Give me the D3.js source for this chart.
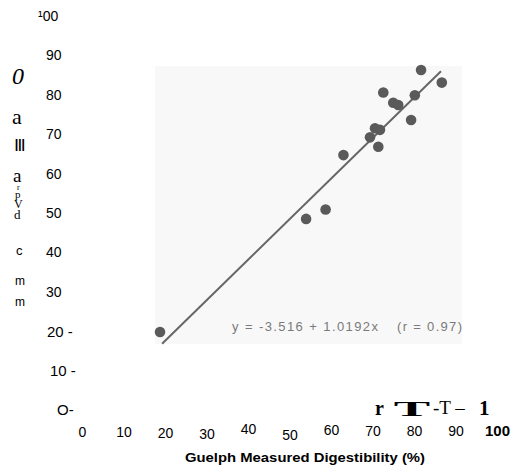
<!DOCTYPE html>
<html>
<head>
<meta charset="utf-8">
<script src="https://cdn.jsdelivr.net/npm/d3@7/dist/d3.min.js"></script>
<style>
  body { margin: 0; background: #fff; }
  svg { display: block; }
</style>
</head>
<body>
<div id="chart"></div>
<script>
// data
const xTicks = [0, 10, 20, 30, 40, 50, 60, 70, 80, 90, 100];
const xTickLabels = ['0', '10', '20', '30', '40', '50', '60', '70', '80', '90', '100'];
const yTicks = [100, 90, 80, 70, 60, 50, 40, 30, 20, 10, 0];
const yTickLabels = ['\u00b900', '90', '80', '70', '60', '50', '40', '30', '20 -', '10 -', 'O-'];

const guelph = [81.7, 86.7, 72.6, 80.2, 75.0, 76.2, 79.3, 70.6, 71.8, 69.4, 71.4, 63.0, 58.7, 54.0, 18.8];
const predicted = [86.3, 83.1, 80.6, 79.9, 78.0, 77.4, 73.6, 71.5, 71.1, 69.2, 66.8, 64.7, 50.9, 48.5, 19.8];

const fitX = [19.3, 86.5];
const fitY = [16.8, 86.0];

const equation = 'y = -3.516 + 1.0192x';
const rValue = '(r = 0.97)';
const xTitle = 'Guelph Measured Digestibility (%)';

// garbled y title left over from the scan
const yTitleBits = [
  {t: '0', x: 12, y: 84, size: 24, fam: 'Liberation Serif', style: 'italic'},
  {t: 'a', x: 12, y: 124, size: 22, fam: 'Liberation Serif'},
  {t: '\u2162', x: 14, y: 151, size: 17, fam: 'Liberation Serif'},
  {t: 'a', x: 13, y: 182, size: 19, fam: 'Liberation Serif'},
  {t: 'r', x: 17, y: 190, size: 8, fam: 'Liberation Serif'},
  {t: 'p', x: 15, y: 198, size: 11, fam: 'Liberation Serif'},
  {t: 'V', x: 14, y: 208, size: 12, fam: 'Liberation Serif'},
  {t: 'd', x: 14, y: 219, size: 13, fam: 'Liberation Serif'},
  {t: 'c', x: 16, y: 255, size: 13, fam: 'Liberation Sans'},
  {t: 'm', x: 15, y: 285, size: 12, fam: 'Liberation Sans'},
  {t: 'm', x: 15, y: 306, size: 12, fam: 'Liberation Sans'}
];

const width = 512, height = 470;

const x = d3.scaleLinear().domain([0, 100]).range([82, 497]);
const y = d3.scaleLinear().domain([0, 100]).range([410, 16]);

const svg = d3.select('#chart').append('svg')
  .attr('width', width)
  .attr('height', height);

const defs = svg.append('defs');
defs.append('filter').attr('id', 'soft')
  .append('feGaussianBlur').attr('stdDeviation', 0.7);

// scanned plot panel
svg.append('rect')
  .attr('x', 155).attr('y', 66)
  .attr('width', 307).attr('height', 278)
  .attr('fill', '#f8f8f8');

// fitted line
svg.append('line')
  .attr('x1', x(fitX[0])).attr('y1', y(fitY[0]))
  .attr('x2', x(fitX[1])).attr('y2', y(fitY[1]))
  .attr('stroke', '#666')
  .attr('stroke-width', 2)
  .attr('filter', 'url(#soft)');

svg.append('g').attr('filter', 'url(#soft)')
  .selectAll('circle')
  .data(guelph)
  .enter()
  .append('circle')
  .attr('cx', d => x(d))
  .attr('cy', (d, i) => y(predicted[i]))
  .attr('r', 5.3)
  .attr('fill', '#5a5a5a');

svg.append('text')
  .attr('x', 232).attr('y', 331)
  .attr('font-family', 'Liberation Sans, Arial, sans-serif')
  .attr('font-size', 13)
  .attr('textLength', 146)
  .attr('lengthAdjust', 'spacing')
  .attr('fill', '#7a7a7a')
  .text(equation);

svg.append('text')
  .attr('x', 397).attr('y', 331)
  .attr('font-family', 'Liberation Sans, Arial, sans-serif')
  .attr('font-size', 13)
  .attr('textLength', 65)
  .attr('lengthAdjust', 'spacing')
  .attr('fill', '#7a7a7a')
  .text(rValue);

// x axis: labels only
const xNudge = [0, 0, 1, 2, -3, 3, -2, -1, -1, -1, -2];
const xAxis = d3.axisBottom(x)
  .tickValues(xTicks)
  .tickSize(0)
  .tickPadding(0)
  .tickFormat((d, i) => xTickLabels[i]);

const gx = svg.append('g')
  .attr('transform', 'translate(0,' + 427 + ')')
  .call(xAxis);
gx.select('.domain').remove();
gx.selectAll('text')
  .attr('font-family', 'Liberation Sans Narrow, Liberation Sans, Arial, sans-serif')
  .attr('font-size', (d, i) => i === xTicks.length - 1 ? 15 : 14)
  .attr('fill', '#000')
  .attr('y', (d, i) => xNudge[i])
  .attr('font-weight', (d, i) => i === xTicks.length - 1 ? 'bold' : 'normal');

// y axis: labels only
const yShift = [-8, 0, 0, 0, 0, 0, 0, 0, 1, 4, 11];
const yAxis = d3.axisLeft(y)
  .tickValues(yTicks)
  .tickSize(0)
  .tickPadding(0)
  .tickFormat((d, i) => yTickLabels[i]);

const gy = svg.append('g')
  .attr('transform', 'translate(46,0)')
  .call(yAxis);
gy.select('.domain').remove();
gy.selectAll('text')
  .attr('text-anchor', 'start')
  .attr('x', (d, i) => yShift[i])
  .attr('font-family', 'Liberation Sans, Arial, sans-serif')
  .attr('font-size', (d, i) => i >= 8 ? 15 : 14)
  .attr('fill', '#000');

svg.append('text')
  .attr('x', 185).attr('y', 462)
  .attr('font-family', 'Liberation Sans, Arial, sans-serif')
  .attr('font-size', 13)
  .attr('font-weight', 'bold')
  .attr('textLength', 240)
  .attr('lengthAdjust', 'spacingAndGlyphs')
  .text(xTitle);

svg.append('g').selectAll('text')
  .data(yTitleBits)
  .enter()
  .append('text')
  .attr('x', d => d.x).attr('y', d => d.y)
  .attr('font-family', d => d.fam + ', serif')
  .attr('font-size', d => d.size)
  .attr('font-style', d => d.style || 'normal')
  .text(d => d.t);

// scan artefact above the right x labels
const art = svg.append('g')
  .attr('font-family', 'Liberation Serif, serif')
  .attr('fill', '#000');
art.append('text').attr('x', 375).attr('y', 415)
  .attr('font-size', 20).attr('font-weight', 'bold').text('r');
art.append('text')
  .attr('transform', 'translate(412,416) scale(2.6,1)')
  .attr('text-anchor', 'middle')
  .attr('font-size', 21).attr('font-weight', 'bold').text('T');
art.append('text').attr('x', 433).attr('y', 414)
  .attr('font-size', 19).text('-T \u2013');
art.append('text').attr('x', 479).attr('y', 415)
  .attr('font-size', 21).attr('font-weight', 'bold').text('1');
</script>
</body>
</html>
